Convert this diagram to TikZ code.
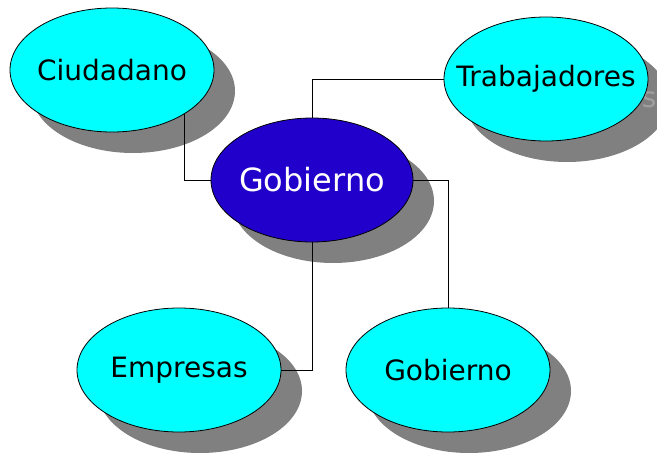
\documentclass[tikz,border=0pt]{standalone}
\usepackage{fontspec}
\setmainfont{DejaVu Sans}
\usetikzlibrary{shapes.geometric}
\definecolor{centreblue}{RGB}{34,0,204}
\definecolor{bubcyan}{RGB}{0,255,255}
\definecolor{shadowgray}{RGB}{128,128,128}
\definecolor{shadowtext}{RGB}{160,160,160}
\pgfdeclarelayer{shadowlayer}
\pgfdeclarelayer{linelayer}
\pgfsetlayers{shadowlayer,linelayer,main}
\begin{document}
\begin{tikzpicture}[x=1pt,y=-1pt,
  bub/.style={ellipse, draw=black, line width=0.8pt, fill=bubcyan,
    minimum width=204pt, minimum height=124pt, inner sep=0pt,
    font=\fontsize{28}{32}\selectfont},
  centre/.style={bub, fill=centreblue, text=white, minimum width=202pt,
    font=\fontsize{32}{36}\selectfont},
  shad/.style={ellipse, fill=shadowgray, minimum width=204pt, minimum height=124pt,
    inner sep=0pt, text=shadowtext, font=\fontsize{28}{32}\selectfont},
  conn/.style={line width=0.8pt, draw=black}]
\useasboundingbox (0,0) rectangle (657,453);
\clip (0,0) rectangle (657,453);
% shadows
\begin{pgfonlayer}{shadowlayer}
\node[shad] (ciuS) at (133,91) {};
\node[shad] (traS) at (567,100) {\makebox[0pt]{\phantom{Trabajadore}s}};
\node[shad, minimum width=202pt] (cenS) at (333,201) {};
\node[shad] (empS) at (200,391) {};
\node[shad] (gobS) at (469,391) {};
\end{pgfonlayer}
% bubbles
\node[bub] (ciu) at (112,70) {\makebox[0pt]{Ciudadano}};
\node[bub] (tra) at (546,79) {\makebox[0pt]{Trabajadores}};
\node[centre] (cen) at (312,180) {\makebox[0pt]{Gobierno}};
\node[bub] (emp) at (179,370) {\makebox[0pt]{Empresas}};
\node[bub] (gob) at (448,370) {\makebox[0pt]{Gobierno}};
% connectors (above shadows, below bubbles)
\begin{pgfonlayer}{linelayer}
\draw[conn] (cen.west) -| (ciu.south east);
\draw[conn] (cen.north) |- (tra.west);
\draw[conn] (cen.south) |- (emp.east);
\draw[conn] (cen.east) -| (gob.north);
\end{pgfonlayer}
\end{tikzpicture}
\end{document}
